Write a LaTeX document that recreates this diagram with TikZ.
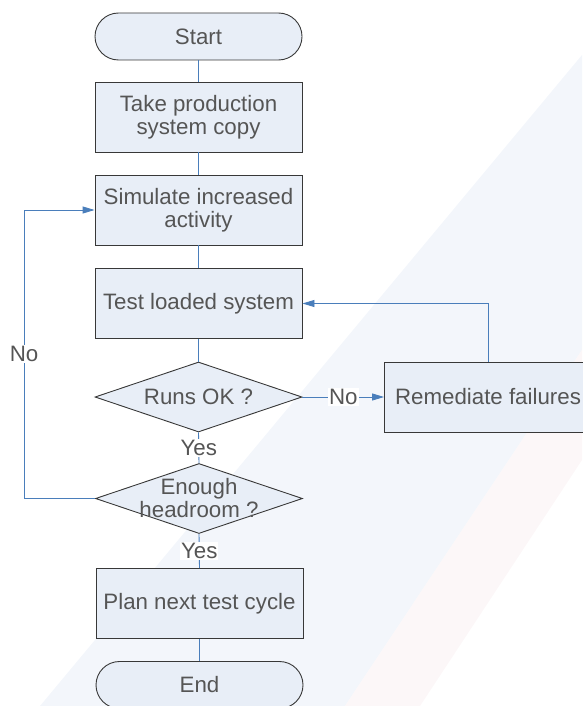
\documentclass[tikz,border=0pt]{standalone}
\usepackage{fontspec}
\setmainfont{Liberation Sans}
\usetikzlibrary{shapes.geometric,arrows.meta}
\definecolor{boxfill}{HTML}{E8EEF7}
\definecolor{boxline}{HTML}{383838}
\definecolor{txt}{HTML}{555555}
\definecolor{conn}{HTML}{4A7EBB}
\definecolor{bgblue}{HTML}{F3F6FB}
\definecolor{bgpink}{HTML}{FCF7F8}
\begin{document}
\begin{tikzpicture}[x=1pt,y=-1pt,
  every node/.style={font=\fontsize{22.3}{23}\selectfont, text=txt},
  base/.style={draw=boxline, line width=0.9pt, fill=boxfill, inner sep=0pt, align=center},
  procbox/.style={base, rectangle, minimum width=207pt, minimum height=70pt},
  termbox/.style={base, rectangle, rounded corners=23.5pt, minimum width=207pt, minimum height=47pt},
  decbox/.style={base, diamond, minimum width=207pt, minimum height=70pt},
  dtext/.style={align=center, inner sep=0pt},
  link/.style={draw=conn, line width=0.9pt},
  arr/.style={link, -{Triangle[length=12pt,width=7pt]}},
  lbl/.style={fill=white, inner sep=1pt}
]
\useasboundingbox (0,0) rectangle (582,706);
% faint background watermark bands
\fill[bgblue] (582,55) -- (582,350) -- (345,706) -- (40,706) -- cycle;
\fill[bgpink] (582,350) -- (582,460) -- (420,706) -- (345,706) -- cycle;

\node[termbox] (start) at (198.5,36.5) {Start};
\node[procbox] (take) at (198.5,117) {Take production\\system copy};
\node[procbox] (sim) at (198.5,210) {Simulate increased\\activity};
\node[procbox] (test) at (198.5,303.5) {Test loaded system};
\node[decbox] (runs) at (198.5,397) {};
\node[dtext] (runsT) at (runs) {Runs OK ?};
\node[procbox] (rem) at (488,397) {Remediate failures};
\node[decbox] (enough) at (199,498.5) {};
\node[dtext] (enoughT) at (199,498) {Enough\\headroom ?};
\node[procbox] (plan) at (199.5,603.5) {Plan next test cycle};
\node[termbox] (end) at (199.5,685) {End};

\draw[link] (start.south) -- (take.north);
\draw[link] (take.south) -- (sim.north);
\draw[link] (sim.south) -- (test.north);
\draw[link] (test.south) -- (runs.north);
\draw[arr] (runs.east) -- node[lbl] (noA) {No} (rem.west);
\draw[arr] (rem.north) |- (test.east);
\draw[link] (runs.south) -- node[lbl] (yesA) {Yes} (enough.north);
\draw[arr] (enough.west) -- ++(-71,0) coordinate (lc) |- node[lbl, pos=0.25] (noB) {No} (sim.west);
\draw[link] (enough.south) -- node[lbl] (yesB) {Yes} (plan.north);
\draw[link] (plan.south) -- (end.north);
\end{tikzpicture}
\end{document}
